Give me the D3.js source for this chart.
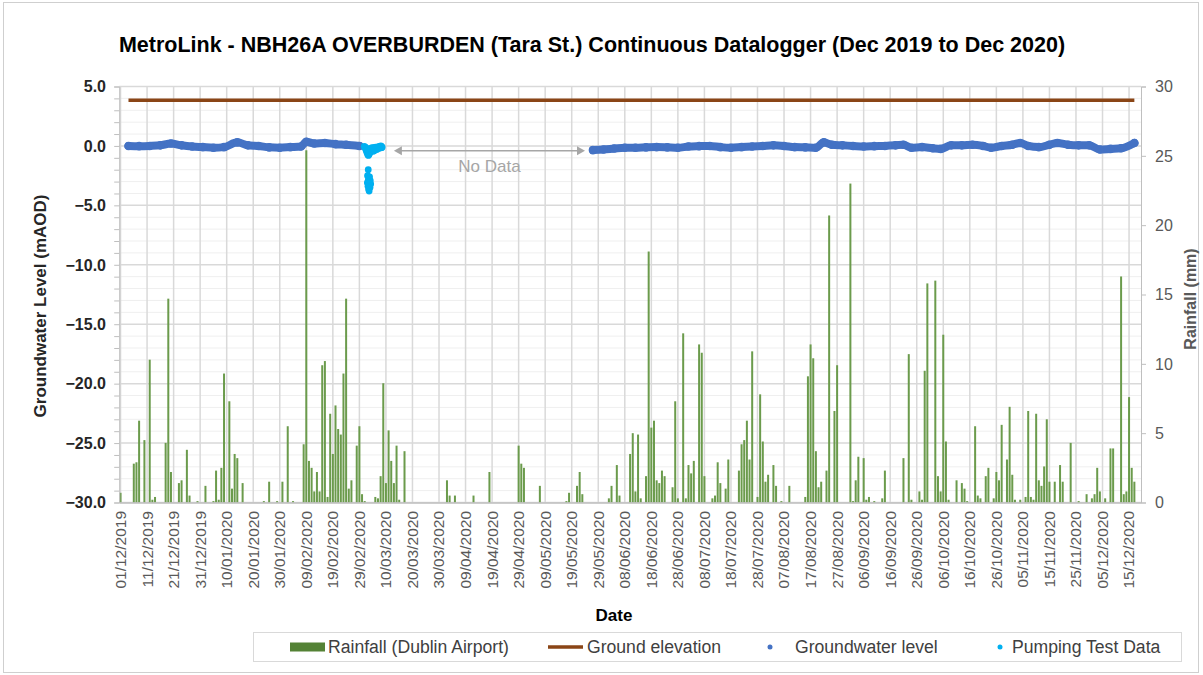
<!DOCTYPE html>
<html>
<head>
<meta charset="utf-8">
<script src="https://cdn.jsdelivr.net/npm/d3@7"></script>
<style>
  body { margin: 0; background: #fff; }
  text { font-family: "Liberation Sans", Arial, sans-serif; }
</style>
</head>
<body>
<div id="chart"></div>
<script>
// daily rainfall (mm), Dublin Airport, starting 01/12/2019 (one row = 10 days)
const rainStart = "01/12/2019";
const rainfall = [
  0.7,0,0,0,0,2.8,2.9,5.9,0,4.5,
  0,10.3,0.2,0.4,0,0,0,4.3,14.7,2.2,
  0,0,1.4,1.6,0,3.8,0.5,0,0,0.1,
  0,0,1.2,0,0,0.1,2.3,0.2,2.5,9.3,
  0,7.3,1.0,3.5,3.2,0,1.4,0,0,0,
  0,0,0,0,0.1,0,1.5,0,0,0.1,
  0,1.5,0,5.5,0,0.1,0,0,0,4.2,
  25.4,3.0,2.5,0.8,2.2,0.8,9.9,10.2,0.4,6.4,
  3.5,7.0,5.3,4.9,9.3,14.7,1.0,1.6,0,4.1,
  5.5,0.6,0.1,0,0,0,0.4,0.3,1.9,8.6,
  1.4,5.2,3.0,1.4,4.1,0.2,0,3.7,0,0,
  0,0,0,0,0,0,0,0,0,0,
  0,0,0,1.6,0.5,0,0.5,0,0,0,
  0,0,0,0.5,0,0,0,0,0,2.2,
  0,0,0,0,0,0,0,0,0,0,
  4.1,2.8,2.5,0,0,0,0,0,1.2,0,
  0,0,0,0,0,0,0,0,0.1,0.7,
  0,0,1.2,2.2,0.6,0,0,0,0,0,
  0,0,0,0,0.3,1.2,0,2.7,0.5,0,
  0,0,3.5,5.0,0.8,4.9,0.3,0,1.9,18.1,
  5.4,5.9,1.6,1.4,2.3,1.9,0,0,1.1,7.3,
  0.3,0,12.2,0.3,2.7,2.1,3.0,0,11.4,10.8,
  1.9,0,0,0.3,0.5,2.9,1.4,0,1.0,3.1,
  0,0,0,2.3,4.2,4.5,5.9,3.1,10.9,0,
  0.4,7.8,4.4,1.5,2.0,0,2.7,1.2,0,0.1,
  0,0,1.2,0,0,0,0,0,0.4,9.1,
  11.4,10.4,3.7,1.1,1.5,0,2.3,20.7,0,6.6,
  9.9,0,0,0,0,23.0,0.1,1.6,3.3,0,
  3.2,0.2,0.4,0,0.1,0,0,0.3,2.3,0,
  0,0,0,0,0,3.2,0,10.7,0.2,0,
  0,0.8,0.2,9.5,15.8,0,0,16.0,1.9,0.8,
  12.1,4.4,0.2,0,0,1.6,0,1.4,1.0,0.1,
  0,0,5.5,0.5,0.3,0,1.9,2.5,0,0.3,
  2.2,1.6,5.6,0,3.1,6.9,2.0,0.2,0,0.2,
  0,0.4,6.6,0.4,0.2,6.4,1.6,1.2,2.6,6.0,
  1.5,0,1.5,0,2.7,1.5,0,0,4.3,0,
  0,0.1,0,0,0.6,0,0.3,0.6,2.5,0.8,
  0,0.3,0,3.9,3.9,0,0,16.3,0.6,0.8,
  7.6,2.5,1.5
];

// groundwater level (mAOD), datalogger before pumping test
const gwDates1 = ["04/12/2019","08/12/2019","12/12/2019","16/12/2019","20/12/2019","24/12/2019",
  "28/12/2019","01/01/2020","05/01/2020","09/01/2020","14/01/2020","18/01/2020","22/01/2020",
  "26/01/2020","30/01/2020","03/02/2020","07/02/2020","09/02/2020","12/02/2020","16/02/2020",
  "20/02/2020","24/02/2020","29/02/2020"];
const gwLevel1 = [0.0,-0.02,0.0,0.05,0.2,0.05,-0.05,-0.1,-0.15,-0.1,0.3,0.05,0.0,
  -0.12,-0.15,-0.1,-0.05,0.35,0.2,0.25,0.15,0.1,0.0];

// groundwater level after the data gap
const gwDates2 = ["27/05/2020","31/05/2020","04/06/2020","08/06/2020","12/06/2020","16/06/2020",
  "20/06/2020","24/06/2020","28/06/2020","02/07/2020","06/07/2020","10/07/2020","14/07/2020",
  "18/07/2020","22/07/2020","26/07/2020","30/07/2020","03/08/2020","07/08/2020","11/08/2020",
  "15/08/2020","19/08/2020","22/08/2020","25/08/2020","29/08/2020","02/09/2020","06/09/2020",
  "10/09/2020","14/09/2020","18/09/2020","21/09/2020","24/09/2020","28/09/2020","02/10/2020",
  "05/10/2020","09/10/2020","13/10/2020","17/10/2020","21/10/2020","24/10/2020","28/10/2020",
  "01/11/2020","04/11/2020","07/11/2020","11/11/2020","15/11/2020","18/11/2020","22/11/2020",
  "26/11/2020","30/11/2020","04/12/2020","08/12/2020","12/12/2020","17/12/2020"];
const gwLevel2 = [-0.35,-0.3,-0.22,-0.15,-0.15,-0.12,-0.1,-0.12,-0.15,-0.05,-0.02,0.0,-0.1,
  -0.15,-0.1,-0.05,0.0,0.05,0.0,-0.1,-0.12,-0.15,0.3,0.1,0.05,0.0,-0.05,-0.02,0.0,0.05,0.1,
  -0.15,-0.1,-0.2,-0.25,0.05,0.05,0.1,0.0,-0.15,0.0,0.1,0.25,0.0,-0.1,0.1,0.25,0.1,0.05,0.05,
  -0.3,-0.25,-0.2,0.25];

// pumping test readings
const pumpTimes = [
  "01/03/2020 20:00","02/03/2020 04:00","02/03/2020 10:00","02/03/2020 16:00","02/03/2020 22:00",
  "03/03/2020 04:00","03/03/2020 10:00","03/03/2020 16:00","03/03/2020 22:00","04/03/2020 04:00",
  "04/03/2020 10:00","04/03/2020 16:00","04/03/2020 22:00","05/03/2020 06:00","05/03/2020 14:00",
  "05/03/2020 22:00","06/03/2020 06:00","06/03/2020 14:00","06/03/2020 22:00","07/03/2020 06:00",
  "07/03/2020 14:00","07/03/2020 22:00","08/03/2020 06:00","08/03/2020 14:00",
  "02/03/2020 06:00","02/03/2020 18:00","03/03/2020 06:00","03/03/2020 18:00","04/03/2020 06:00",
  "04/03/2020 18:00","05/03/2020 10:00","06/03/2020 02:00","06/03/2020 18:00","07/03/2020 10:00",
  "08/03/2020 02:00","08/03/2020 10:00",
  "03/03/2020 08:00","03/03/2020 02:00","03/03/2020 20:00","03/03/2020 10:00","04/03/2020 02:00",
  "03/03/2020 14:00","03/03/2020 00:00","04/03/2020 06:00","03/03/2020 18:00","03/03/2020 06:00",
  "04/03/2020 00:00","03/03/2020 12:00","03/03/2020 16:00"];
const pumpLevel = [
  -0.05,-0.15,-0.3,-0.45,-0.6,-0.75,-0.8,-0.7,-0.6,-0.5,-0.35,-0.3,-0.4,-0.45,-0.4,-0.3,
  -0.25,-0.3,-0.2,-0.15,-0.2,-0.1,-0.05,-0.1,
  -0.1,-0.2,-0.35,-0.3,-0.2,-0.15,-0.15,-0.1,-0.1,-0.05,0.0,-0.15,
  -2.0,-2.5,-2.6,-2.8,-2.9,-3.0,-3.1,-3.2,-3.3,-3.4,-3.5,-3.65,-3.8];

// ground elevation
const groundDates = ["04/12/2019","17/12/2020"];
const groundLevel = [3.85, 3.85];

// "No Data" annotation span
const noDataSpan = ["13/03/2020","24/05/2020"];
const noDataLevel = -0.4;

const xTicks = ["01/12/2019","11/12/2019","21/12/2019","31/12/2019","10/01/2020","20/01/2020",
  "30/01/2020","09/02/2020","19/02/2020","29/02/2020","10/03/2020","20/03/2020","30/03/2020",
  "09/04/2020","19/04/2020","29/04/2020","09/05/2020","19/05/2020","29/05/2020","08/06/2020",
  "18/06/2020","28/06/2020","08/07/2020","18/07/2020","28/07/2020","07/08/2020","17/08/2020",
  "27/08/2020","06/09/2020","16/09/2020","26/09/2020","06/10/2020","16/10/2020","26/10/2020",
  "05/11/2020","15/11/2020","25/11/2020","05/12/2020","15/12/2020"];
const leftTicks = [5, 0, -5, -10, -15, -20, -25, -30];
const rightTicks = [30, 25, 20, 15, 10, 5, 0];
const xRange = ["30/11/2019 12:00", "19/12/2020 12:00"];

const legendItems = ["Rainfall (Dublin Airport)", "Ground elevation", "Groundwater level", "Pumping Test Data"];

const C = {
  rain: "#6b9b4c", rainDark: "#548235", ground: "#8a4516",
  gw: "#4472c4", pump: "#00b0f0", grid: "#d9d9d9", minor: "#efefef", axis: "#bfbfbf"
};

const W = 1203, H = 675;
const plot = {left: 119.2, right: 1141, top: 86.5, bottom: 502.5};

const parseD = d3.utcParse("%d/%m/%Y");
const parseT = d3.utcParse("%d/%m/%Y %H:%M");

const svg = d3.select("#chart").append("svg").attr("width", W).attr("height", H);

// outer frame
svg.append("rect").attr("x", 3.5).attr("y", 2.5).attr("width", 1195).attr("height", 670)
  .attr("fill", "none").attr("stroke", "#cfcfcf");

const x = d3.scaleUtc().domain(xRange.map(parseT)).range([plot.left, plot.right]);
const yL = d3.scaleLinear().domain([-30, 5]).range([plot.bottom, plot.top]);
const yR = d3.scaleLinear().domain([0, 30]).range([plot.bottom, plot.top]);

// minor gridlines
svg.append("g").selectAll("line").data(d3.range(-30, 6, 1).filter(v => v % 5 !== 0)).join("line")
  .attr("x1", plot.left).attr("x2", plot.right)
  .attr("y1", d => yL(d)).attr("y2", d => yL(d))
  .attr("stroke", C.minor).attr("stroke-width", 1);

// major gridlines
svg.append("g").selectAll("line").data(leftTicks).join("line")
  .attr("x1", plot.left).attr("x2", plot.right)
  .attr("y1", d => yL(d)).attr("y2", d => yL(d))
  .attr("stroke", C.grid).attr("stroke-width", 1.5);

svg.append("g").selectAll("line").data(xTicks.map(parseD)).join("line")
  .attr("x1", d => x(d)).attr("x2", d => x(d))
  .attr("y1", plot.top).attr("y2", plot.bottom)
  .attr("stroke", C.grid).attr("stroke-width", 1.5);

// rainfall bars
const start = parseD(rainStart);
const rainData = rainfall.map((v, i) => ({date: d3.utcDay.offset(start, i), v}));
svg.append("g").selectAll("rect").data(rainData.filter(d => d.v > 0)).join("rect")
  .attr("x", d => x(d.date) - 1)
  .attr("width", 2)
  .attr("y", d => yR(d.v))
  .attr("height", d => yR(0) - yR(d.v))
  .attr("fill", C.rain);

// axes
const axL = svg.append("g").attr("transform", `translate(${plot.left},0)`)
  .call(d3.axisLeft(yL).tickValues(d3.range(-30, 6, 1)).tickSize(5).tickFormat(""));
axL.select(".domain").attr("stroke", C.axis);
axL.selectAll(".tick line").attr("stroke", C.axis);

svg.append("g").selectAll("text").data(leftTicks).join("text")
  .attr("x", 106).attr("y", d => yL(d)).attr("dy", "0.36em")
  .attr("text-anchor", "end").attr("font-size", 16).attr("font-weight", "bold")
  .attr("fill", "#262626").text(d => d3.format(".1f")(d));

const axR = svg.append("g").attr("transform", `translate(${plot.right},0)`)
  .call(d3.axisRight(yR).tickValues(rightTicks).tickSize(5).tickFormat(""));
axR.select(".domain").attr("stroke", C.axis);
axR.selectAll(".tick line").attr("stroke", C.axis);

svg.append("g").selectAll("text").data(rightTicks).join("text")
  .attr("x", 1155).attr("y", d => yR(d)).attr("dy", "0.36em")
  .attr("font-size", 16).attr("fill", "#595959").text(d => d);

const axB = svg.append("g").attr("transform", `translate(0,${plot.bottom})`)
  .call(d3.axisBottom(x).tickValues(xTicks.map(parseD)).tickSize(0).tickFormat(""));
axB.select(".domain").attr("stroke", C.axis).attr("stroke-width", 1.5);

svg.append("g").selectAll("text").data(xTicks).join("text")
  .attr("transform", d => `translate(${x(parseD(d))},511) rotate(-90)`)
  .attr("dy", "0.35em").attr("text-anchor", "end")
  .attr("font-size", 15.5).attr("fill", "#595959").text(d => d);

// ground elevation
svg.append("path")
  .datum(groundDates.map((d, i) => [parseD(d), groundLevel[i]]))
  .attr("d", d3.line().x(d => x(d[0])).y(d => yL(d[1])))
  .attr("fill", "none").attr("stroke", C.ground).attr("stroke-width", 3.5);

// groundwater level
const gwLine = d3.line().x(d => x(d[0])).y(d => yL(d[1])).curve(d3.curveMonotoneX);
[[gwDates1, gwLevel1], [gwDates2, gwLevel2]].forEach(([ds, vs]) => {
  const pts = ds.map((d, i) => [parseD(d), vs[i]]);
  svg.append("path").datum(pts).attr("d", gwLine)
    .attr("fill", "none").attr("stroke", C.gw).attr("stroke-width", 8)
    .attr("stroke-linecap", "round").attr("stroke-linejoin", "round");
  svg.append("g").selectAll("circle").data(pts).join("circle")
    .attr("cx", d => x(d[0])).attr("cy", d => yL(d[1])).attr("r", 4.3).attr("fill", C.gw);
});

// pumping test data
svg.append("g").selectAll("circle").data(pumpTimes.map((t, i) => [parseT(t), pumpLevel[i]])).join("circle")
  .attr("cx", d => x(d[0])).attr("cy", d => yL(d[1])).attr("r", 3.4).attr("fill", C.pump);

// "No Data" arrow
const nx1 = x(parseD(noDataSpan[0])), nx2 = x(parseD(noDataSpan[1])), ny = yL(noDataLevel);
svg.append("line").attr("x1", nx1 + 6).attr("x2", nx2 - 6).attr("y1", ny).attr("y2", ny)
  .attr("stroke", "#a6a6a6").attr("stroke-width", 1.5);
svg.append("path").attr("d", `M${nx1},${ny}L${nx1 + 8},${ny - 4.5}L${nx1 + 8},${ny + 4.5}Z`).attr("fill", "#a6a6a6");
svg.append("path").attr("d", `M${nx2},${ny}L${nx2 - 8},${ny - 4.5}L${nx2 - 8},${ny + 4.5}Z`).attr("fill", "#a6a6a6");
svg.append("text").attr("x", (nx1 + nx2) / 2).attr("y", ny + 21)
  .attr("text-anchor", "middle").attr("font-size", 17).attr("fill", "#a6a6a6").text("No Data");

// titles
svg.append("text").attr("x", 592).attr("y", 52).attr("text-anchor", "middle")
  .attr("font-size", 21.5).attr("font-weight", "bold").attr("fill", "#000")
  .text("MetroLink - NBH26A OVERBURDEN (Tara St.) Continuous Datalogger (Dec 2019 to Dec 2020)");

svg.append("text").attr("transform", "translate(40,306) rotate(-90)")
  .attr("dy", "0.35em").attr("text-anchor", "middle")
  .attr("font-size", 17).attr("font-weight", "bold").attr("fill", "#262626")
  .text("Groundwater Level (mAOD)");

svg.append("text").attr("transform", "translate(1190,299) rotate(-90)")
  .attr("dy", "0.35em").attr("text-anchor", "middle")
  .attr("font-size", 16).attr("font-weight", "bold").attr("fill", "#595959")
  .text("Rainfall (mm)");

svg.append("text").attr("x", 614).attr("y", 621).attr("text-anchor", "middle")
  .attr("font-size", 17).attr("font-weight", "bold").attr("fill", "#000").text("Date");

// legend
const lg = svg.append("g");
lg.append("rect").attr("x", 253.5).attr("y", 632.5).attr("width", 928).attr("height", 29)
  .attr("fill", "#fff").attr("stroke", "#d9d9d9");
const ly = 647;
lg.append("rect").attr("x", 290).attr("y", ly - 4.5).attr("width", 35).attr("height", 9).attr("fill", C.rainDark);
lg.append("line").attr("x1", 548).attr("x2", 583).attr("y1", ly).attr("y2", ly)
  .attr("stroke", C.ground).attr("stroke-width", 3.5);
lg.append("circle").attr("cx", 770).attr("cy", ly).attr("r", 2.5).attr("fill", C.gw);
lg.append("circle").attr("cx", 1000).attr("cy", ly).attr("r", 2.5).attr("fill", C.pump);
const lx = [328, 587, 795, 1012];
lg.selectAll("text.lt").data(legendItems).join("text").attr("class", "lt")
  .attr("x", (d, i) => lx[i]).attr("y", ly).attr("dy", "0.36em")
  .attr("font-size", 17.6).attr("fill", "#404040").text(d => d);
</script>
</body>
</html>
